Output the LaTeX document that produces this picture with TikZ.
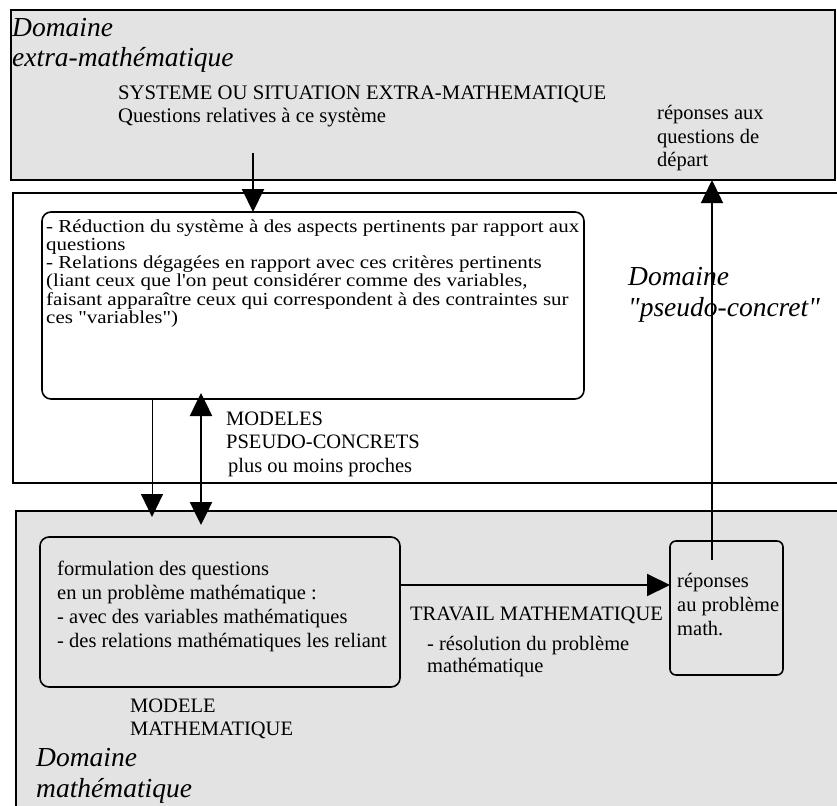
\documentclass[tikz,border=0pt]{standalone}
\usepackage{fontspec}
\setmainfont{Liberation Serif}
\usetikzlibrary{arrows.meta}

\newcommand{\txtfont}{\fontsize{20.5}{23.5}\selectfont}
\newcommand{\domfont}{\fontsize{27.5}{30.5}\selectfont\itshape}

\tikzset{
  domainbox/.style={draw, line width=1.8pt, rectangle, inner sep=0pt, outer sep=0pt, anchor=north west},
  modelbox/.style={draw, line width=1.6pt, rounded corners=9pt, inner sep=0pt, outer sep=0pt, anchor=north west},
  txt/.style={font=\txtfont, align=left, inner sep=0pt, anchor=base west},
  domlabel/.style={font=\domfont, align=left, inner sep=0pt, anchor=base west},
  fleche/.style={-{Triangle[length=23pt,width=22pt]}, line width=2pt},
}

\begin{document}
\begin{tikzpicture}[x=1pt, y=-1pt]
\useasboundingbox (0,0) rectangle (837,805);

% les trois domaines
\node[domainbox, fill=black!11, minimum width=824pt, minimum height=170pt] (extra) at (11,10) {};
\node[domainbox, minimum width=840pt, minimum height=290pt] (pseudo) at (13,193) {};
\node[domainbox, fill=black!11, minimum width=840pt, minimum height=310pt] (math) at (16,511) {};

% (base = derniere ligne)
\node[domlabel] (extralbl) at (12,67) {Domaine\\extra-mathématique};
\node[domlabel] (pseudolbl) at (628,316) {Domaine\\\textquotedbl pseudo-concret\textquotedbl};
\node[domlabel] (mathlbl) at (36,797) {Domaine\\mathématique};

% domaine extra-mathematique
\node[txt, font=\fontsize{20.7}{23}\selectfont] (systeme) at (118,123) {SYSTEME OU SITUATION EXTRA-MATHEMATIQUE\\Questions relatives à ce système};
\node[txt, font=\fontsize{20.5}{23.5}\selectfont] (repdepart) at (657,167) {réponses aux\\questions de\\départ};

% modele pseudo-concret
\node[modelbox, minimum width=542pt, minimum height=187pt] (pcbox) at (42,212) {};
\node[txt, font=\fontsize{21}{21}\selectfont] (pctext) at (46,232) {\scalebox{1}[0.87]{\begin{tabular}[t]{@{}l@{}}
- Réduction du système à des aspects pertinents par rapport aux\\
questions\\
- Relations dégagées en rapport avec ces critères pertinents\\
(liant ceux que l\textquotesingle on peut considérer comme des variables,\\
faisant apparaître ceux qui correspondent à des contraintes sur\\
ces \textquotedbl variables\textquotedbl)
\end{tabular}}};
\node[txt] (pcmodel) at (226,472) {MODELES\\PSEUDO-CONCRETS\\\hspace{2pt}plus ou moins proches};

% modele mathematique
\node[modelbox, minimum width=360pt, minimum height=150pt] (mmbox) at (40,537) {};
\node[txt, font=\fontsize{20.5}{23.7}\selectfont] (mmtext) at (57,647) {formulation des questions\\en un problème mathématique :\\- avec des variables mathématiques\\- des relations mathématiques les reliant};
\node[txt, font=\fontsize{20.5}{23}\selectfont] (mmlbl) at (130,735) {MODELE\\MATHEMATIQUE};

\node[modelbox, rounded corners=6pt, minimum width=113pt, minimum height=134pt] (repbox) at (670,541) {};
\node[txt, font=\fontsize{20.5}{24}\selectfont] (reptext) at (677,635) {réponses\\au problème\\math.};

\node[txt] (travail) at (410,620) {TRAVAIL MATHEMATIQUE};
\node[txt, font=\fontsize{20.5}{22}\selectfont] (resol) at (427,672) {- résolution du problème\\mathématique};

% fleches
\coordinate (q) at (253,153);
\draw[fleche] (q) -- (q |- pcbox.north);
\coordinate (a1) at (152,517);
\draw[fleche, line width=1pt] (a1 |- pcbox.south) -- (a1);
\coordinate (a2t) at (201,393);
\coordinate (a2b) at (201,525);
\draw[fleche, line width=2.5pt, {Triangle[length=23pt,width=22pt]}-{Triangle[length=23pt,width=22pt]}] (a2t) -- (a2b);
\coordinate (h) at (400,585);
\draw[fleche] (h) -- (h -| repbox.west);
\coordinate (u) at (712,560);
\draw[fleche, line width=1.5pt] (u) -- (u |- extra.south);
\end{tikzpicture}
\end{document}
